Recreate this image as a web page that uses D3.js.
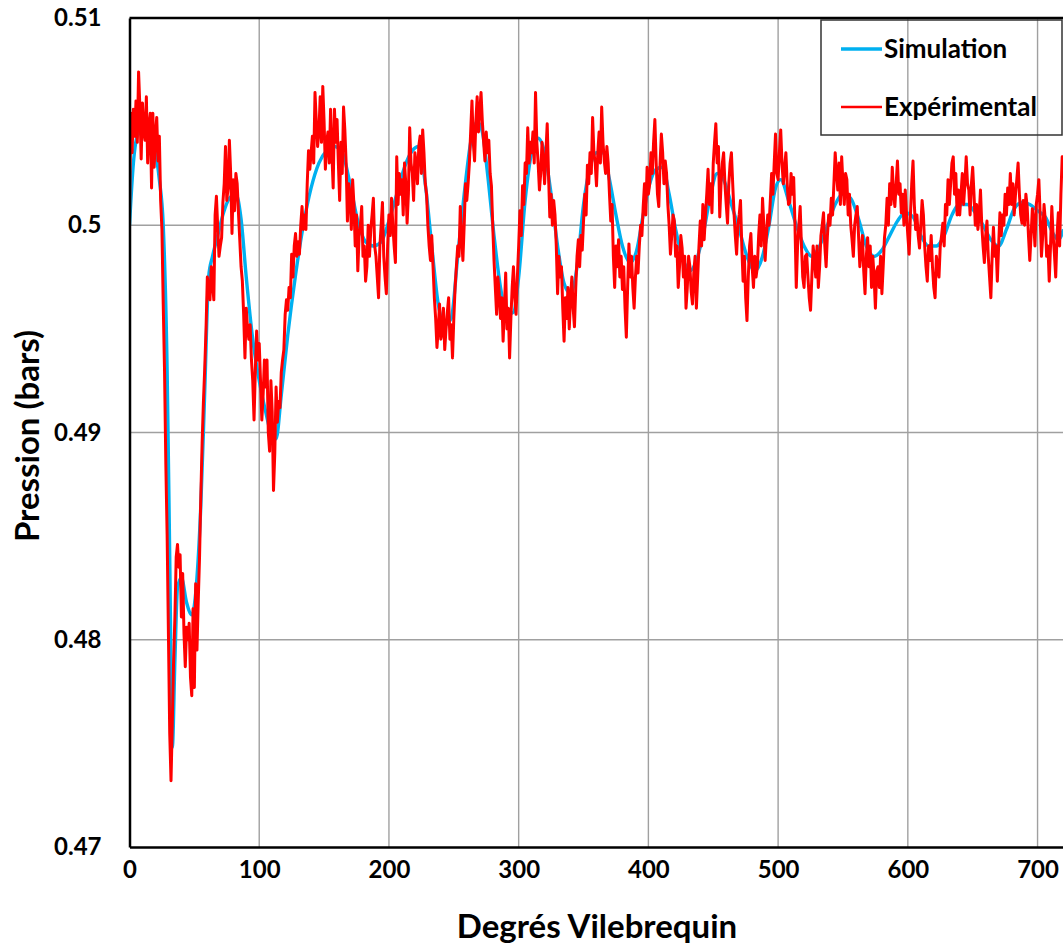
<!DOCTYPE html>
<html><head><meta charset="utf-8">
<script src="https://cdn.jsdelivr.net/npm/d3@7/dist/d3.min.js"></script>
<style>
html,body{margin:0;padding:0;background:#fff;overflow:hidden}
text{font-family:Lato,"Open Sans",sans-serif;font-weight:700;fill:#000}
</style></head>
<body><svg id="c" width="1063" height="947"></svg>
<script>
const xTicks=[0,100,200,300,400,500,600,700];
const yTicks=[0.47,0.48,0.49,0.50,0.51];
const yTickLabels=["0.47","0.48","0.49","0.5","0.51"];
const seriesNames=["Simulation","Expérimental"];
const xTitle="Degrés Vilebrequin";
const yTitle="Pression (bars)";

// Simulation: crank angle (deg) and pressure (bars)
const simDeg=[0,3,6,10,15,19,23,26,29,31,33,35,37,40,44,48,52,55,58,61,64,68,72,77,82,86,90,95,100,105,110,113,117,122,128,134,140,146,152,158,164,170,176,182,188,194,200,206,212,218,223,228,233,238,243,248,253,258,263,268,272,276,281,286,291,296,300,305,310,315,320,325,330,335,340,345,350,355,360,365,370,375,380,386,391,396,401,406,411,416,421,426,432,437,443,448,453,458,464,470,476,482,488,493,498,502,508,514,520,526,532,538,544,550,556,562,568,574,580,586,592,598,604,610,616,622,628,634,640,646,652,658,664,670,676,682,688,694,700,706,712,716,720];
const simVal=[0.5000,0.5030,0.5043,0.5046,0.5044,0.5038,0.5022,0.5000,0.4930,0.4840,0.4748,0.4790,0.4825,0.4830,0.4818,0.4812,0.4830,0.4865,0.4920,0.4975,0.4985,0.4995,0.5005,0.5013,0.5015,0.5003,0.4975,0.4945,0.4925,0.4910,0.4898,0.4897,0.4918,0.4947,0.4976,0.5000,0.5018,0.5030,0.5036,0.5038,0.5035,0.5020,0.5002,0.4992,0.4990,0.4992,0.5002,0.5015,0.5028,0.5036,0.5038,0.5020,0.4990,0.4962,0.4952,0.4955,0.4985,0.5015,0.5040,0.5050,0.5045,0.5025,0.4995,0.4970,0.4957,0.4958,0.4975,0.5012,0.5035,0.5042,0.5035,0.5015,0.4990,0.4972,0.4967,0.4980,0.5010,0.5028,0.5035,0.5035,0.5022,0.5005,0.4990,0.4982,0.4988,0.5005,0.5020,0.5027,0.5028,0.5015,0.4998,0.4985,0.4978,0.4983,0.4998,0.5015,0.5025,0.5022,0.5010,0.4998,0.4985,0.4978,0.4985,0.5000,0.5018,0.5022,0.5012,0.5000,0.4990,0.4985,0.4990,0.5000,0.5010,0.5015,0.5013,0.5003,0.4990,0.4985,0.4988,0.4995,0.5002,0.5006,0.5004,0.4995,0.4990,0.4990,0.4995,0.5005,0.5010,0.5010,0.5006,0.5000,0.4993,0.4990,0.4998,0.5008,0.5011,0.5010,0.5007,0.5004,0.4996,0.4993,0.4998];

// Experimental: one reading per crank degree, 0..720
const expVal=[
0.5004,0.5054,0.5035,0.5056,0.5043,0.5060,0.5040,0.5074,0.5057,0.5032,
0.5059,0.5045,0.5041,0.5062,0.5030,0.5048,0.5054,0.5018,0.5054,0.5028,
0.5044,0.5052,0.5031,0.5043,0.5012,0.4998,0.4962,0.4930,0.4885,0.4851,
0.4803,0.4755,0.4732,0.4760,0.4790,0.4811,0.4840,0.4846,0.4835,0.4841,
0.4811,0.4832,0.4803,0.4787,0.4806,0.4800,0.4808,0.4782,0.4773,0.4815,
0.4777,0.4827,0.4795,0.4819,0.4840,0.4870,0.4895,0.4915,0.4931,0.4950,
0.4975,0.4970,0.4964,0.4980,0.4972,0.4964,0.5005,0.5014,0.4999,0.4985,
0.4990,0.4994,0.5011,0.5020,0.5038,0.5012,0.5018,0.5041,0.5025,0.4996,
0.5022,0.5007,0.5025,0.5020,0.5006,0.4993,0.4980,0.4973,0.4957,0.4936,
0.4960,0.4950,0.4945,0.4952,0.4935,0.4925,0.4906,0.4930,0.4949,0.4935,
0.4943,0.4925,0.4906,0.4918,0.4935,0.4922,0.4935,0.4900,0.4891,0.4925,
0.4910,0.4872,0.4890,0.4922,0.4905,0.4915,0.4912,0.4929,0.4935,0.4940,
0.4957,0.4964,0.4959,0.4970,0.4965,0.4986,0.4975,0.4990,0.4996,0.4985,
0.4992,0.4986,0.5000,0.5009,0.4998,0.5005,0.4998,0.5020,0.5036,0.5027,
0.5035,0.5043,0.5030,0.5064,0.5050,0.5038,0.5045,0.5062,0.5040,0.5067,
0.5050,0.5027,0.5040,0.5045,0.5030,0.5056,0.5035,0.5018,0.5056,0.5040,
0.5051,0.5030,0.5012,0.5040,0.5025,0.5057,0.5046,0.5030,0.5002,0.5020,
0.5015,0.4998,0.5022,0.5010,0.4990,0.5005,0.4978,0.4995,0.5000,0.5009,
0.4985,0.4990,0.4973,0.4980,0.5000,0.4985,0.4998,0.5005,0.5013,0.4990,
0.4985,0.4975,0.4965,0.4990,0.5000,0.5011,0.4985,0.4975,0.4967,0.4990,
0.5005,0.4995,0.5013,0.5000,0.4990,0.4982,0.5033,0.5010,0.5025,0.5015,
0.5022,0.5005,0.5030,0.5020,0.5001,0.5015,0.5047,0.5030,0.5025,0.5012,
0.5035,0.5030,0.5020,0.5038,0.5043,0.5025,0.5046,0.5035,0.5020,0.5015,
0.5000,0.4990,0.4983,0.4995,0.4980,0.4965,0.4955,0.4941,0.4950,0.4962,
0.4945,0.4948,0.4960,0.4940,0.4950,0.4958,0.4965,0.4945,0.4952,0.4936,
0.4955,0.4970,0.4980,0.4990,0.4985,0.5009,0.4995,0.4983,0.5000,0.5020,
0.5012,0.5020,0.5030,0.5045,0.5060,0.5040,0.5031,0.5050,0.5062,0.5045,
0.5055,0.5064,0.5050,0.5040,0.5031,0.5045,0.5035,0.5041,0.5025,0.5019,
0.5000,0.4983,0.4970,0.4957,0.4975,0.4967,0.4955,0.4965,0.4944,0.4960,
0.4977,0.4950,0.4960,0.4936,0.4955,0.4970,0.4980,0.4965,0.4957,0.4975,
0.4990,0.5007,0.4995,0.5019,0.5010,0.5030,0.5025,0.5047,0.5030,0.5040,
0.5035,0.5045,0.5030,0.5064,0.5040,0.5030,0.5017,0.5025,0.5040,0.5031,
0.5020,0.5035,0.5049,0.5025,0.5004,0.5015,0.5000,0.5012,0.5005,0.4990,
0.4967,0.4985,0.4975,0.4980,0.4960,0.4944,0.4965,0.4955,0.4970,0.4950,
0.4965,0.4975,0.4960,0.4951,0.4970,0.4985,0.4993,0.4980,0.4995,0.4988,
0.5002,0.5015,0.5005,0.5029,0.5020,0.5035,0.5025,0.5052,0.5035,0.5030,
0.5019,0.5035,0.5045,0.5030,0.5057,0.5040,0.5031,0.5025,0.5038,0.5030,
0.5015,0.5002,0.5010,0.4985,0.4970,0.4990,0.4980,0.4993,0.4975,0.4985,
0.4969,0.4980,0.4960,0.4946,0.4970,0.4991,0.4975,0.4985,0.4970,0.4960,
0.4975,0.4985,0.4977,0.4990,0.5000,0.4995,0.5009,0.5020,0.5005,0.5028,
0.5015,0.5020,0.5035,0.5025,0.5040,0.5051,0.5030,0.5015,0.5009,0.5030,
0.5044,0.5035,0.5020,0.5031,0.5025,0.5010,0.5000,0.4986,0.4995,0.5005,
0.5002,0.4985,0.4990,0.4970,0.4980,0.4995,0.4989,0.4975,0.4985,0.4960,
0.4970,0.4985,0.4980,0.4968,0.4962,0.4977,0.4985,0.4960,0.4975,0.4990,
0.5002,0.4990,0.5010,0.4993,0.5005,0.5015,0.5027,0.5010,0.5020,0.5006,
0.5030,0.5040,0.5049,0.5030,0.5038,0.5004,0.5020,0.5030,0.5035,0.5020,
0.5010,0.5001,0.5020,0.5030,0.5035,0.5020,0.5006,0.4995,0.4986,0.5000,
0.5005,0.5012,0.4990,0.4973,0.4985,0.4965,0.4954,0.4975,0.4990,0.4996,
0.4980,0.4970,0.4985,0.4975,0.4980,0.4995,0.5005,0.4990,0.5013,0.5000,
0.4983,0.4995,0.5005,0.5000,0.5012,0.5025,0.5015,0.5030,0.5044,0.5025,
0.5022,0.5035,0.5046,0.5030,0.5020,0.5028,0.5035,0.5020,0.5010,0.5011,
0.5025,0.5015,0.5023,0.5000,0.4970,0.4990,0.5000,0.5009,0.4990,0.4975,
0.4970,0.4985,0.4986,0.4975,0.4965,0.4959,0.4975,0.4990,0.4983,0.4975,
0.4990,0.4970,0.4980,0.4995,0.5000,0.5006,0.4990,0.4980,0.4995,0.5005,
0.5000,0.5013,0.5005,0.5020,0.5035,0.5025,0.5017,0.5030,0.5010,0.5033,
0.5020,0.5010,0.5025,0.5022,0.5005,0.5015,0.5000,0.4993,0.4985,0.5000,
0.5005,0.5009,0.4995,0.4980,0.4988,0.4995,0.4978,0.4967,0.4985,0.4994,
0.4980,0.4990,0.4970,0.4985,0.4975,0.4960,0.4978,0.4980,0.4970,0.4985,
0.4967,0.4980,0.4994,0.5000,0.5013,0.5000,0.5020,0.5010,0.5028,0.5015,
0.5009,0.5020,0.5031,0.5015,0.5020,0.5006,0.5015,0.5000,0.5017,0.5005,
0.4995,0.4986,0.5005,0.5020,0.5031,0.5010,0.4998,0.5005,0.4995,0.4989,
0.5000,0.5012,0.5005,0.4990,0.4980,0.4973,0.4990,0.4983,0.4995,0.4980,
0.4970,0.4965,0.4985,0.4980,0.4975,0.4990,0.4995,0.5001,0.4990,0.5010,
0.5005,0.5022,0.5010,0.5020,0.5030,0.5033,0.5015,0.5025,0.5005,0.5017,
0.5005,0.5015,0.5025,0.5010,0.5020,0.5033,0.5020,0.5017,0.5005,0.5020,
0.5028,0.5015,0.5000,0.5010,0.4998,0.5005,0.5017,0.5000,0.4990,0.4982,
0.4995,0.5002,0.4985,0.4975,0.4965,0.4985,0.4999,0.4985,0.4990,0.4973,
0.4990,0.5006,0.4995,0.5005,0.5000,0.5015,0.5005,0.5018,0.5010,0.5025,
0.5010,0.5020,0.5005,0.5015,0.5022,0.5030,0.5015,0.5005,0.5001,0.5012,
0.5000,0.5015,0.5009,0.4995,0.4983,0.4995,0.5008,0.5002,0.4990,0.5010,
0.5015,0.5022,0.5005,0.4985,0.4995,0.5010,0.5002,0.4985,0.4990,0.4973,
0.4990,0.5009,0.4995,0.4986,0.4975,0.4995,0.5006,0.4990,0.5015,0.5033,
0.5033];

const svg=d3.select("#c");
const L=129.5,R=1063.5,T=18,B=847;
const x=d3.scaleLinear().domain([0,720]).range([L,R]);
const y=d3.scaleLinear().domain([0.47,0.51]).range([B,T]);

// gridlines
svg.append("g").selectAll("line").data(xTicks.slice(1)).join("line")
 .attr("x1",d=>x(d)).attr("x2",d=>x(d)).attr("y1",T).attr("y2",B)
 .attr("stroke","#a0a0a0").attr("stroke-width",1.4);
svg.append("g").selectAll("line").data(yTicks.slice(1,-1)).join("line")
 .attr("x1",L).attr("x2",R).attr("y1",d=>y(d)).attr("y2",d=>y(d))
 .attr("stroke","#a0a0a0").attr("stroke-width",1.4);

svg.append("clipPath").attr("id","clip").append("rect")
 .attr("x",L).attr("y",T).attr("width",R-L).attr("height",B-T);

const simData=simDeg.map((d,i)=>[d,simVal[i]]);
const expData=expVal.map((v,i)=>[i,v]);
const g=svg.append("g").attr("clip-path","url(#clip)");
g.append("path").datum(simData)
 .attr("d",d3.line().x(d=>x(d[0])).y(d=>y(d[1])).curve(d3.curveMonotoneX))
 .attr("fill","none").attr("stroke","#00B0F0").attr("stroke-width",3.4).attr("stroke-linejoin","round");
g.append("path").datum(expData)
 .attr("d",d3.line().x(d=>x(d[0])).y(d=>y(d[1])))
 .attr("fill","none").attr("stroke","#FF0000").attr("stroke-width",3).attr("stroke-linejoin","round");

// axes
const xAxis=d3.axisBottom(x).tickValues(xTicks).tickSize(0).tickPadding(14).tickFormat(d3.format("d"));
const gx=svg.append("g").attr("transform",`translate(0,${B})`).call(xAxis);
gx.select(".domain").attr("stroke","#000").attr("stroke-width",2.5);
gx.selectAll("text").style("font-size","24px").style("font-family","Lato").style("font-weight","700");

const yAxis=d3.axisLeft(y).tickValues(yTicks).tickSize(0).tickPadding(28).tickFormat((d,i)=>yTickLabels[i]);
const gy=svg.append("g").attr("transform",`translate(${L},0)`).call(yAxis);
gy.select(".domain").attr("stroke","#000").attr("stroke-width",2.5);
gy.selectAll("text").style("font-size","24px").style("font-family","Lato").style("font-weight","700");

svg.append("line").attr("x1",L).attr("x2",R).attr("y1",T).attr("y2",T)
 .attr("stroke","#000").attr("stroke-width",2.5);

// titles
svg.append("text").attr("x",597).attr("y",938).attr("text-anchor","middle")
 .style("font-size","33px").text(xTitle);
svg.append("text").attr("transform","translate(39,436) rotate(-90)").attr("text-anchor","middle")
 .style("font-size","33px").text(yTitle);

// legend
const lg=svg.append("g");
lg.append("rect").attr("x",821).attr("y",20).attr("width",241).attr("height",115)
 .attr("fill","none").attr("stroke","#333").attr("stroke-width",1.5);
const legColors=["#00B0F0","#FF0000"],legW=[3.4,2.6],legY=[49,107];
seriesNames.forEach((n,i)=>{
 lg.append("line").attr("x1",841).attr("x2",882).attr("y1",legY[i]).attr("y2",legY[i])
  .attr("stroke",legColors[i]).attr("stroke-width",legW[i]);
 lg.append("text").attr("x",884).attr("y",legY[i]+9).style("font-size","26px").text(n);
});
</script></body></html>
